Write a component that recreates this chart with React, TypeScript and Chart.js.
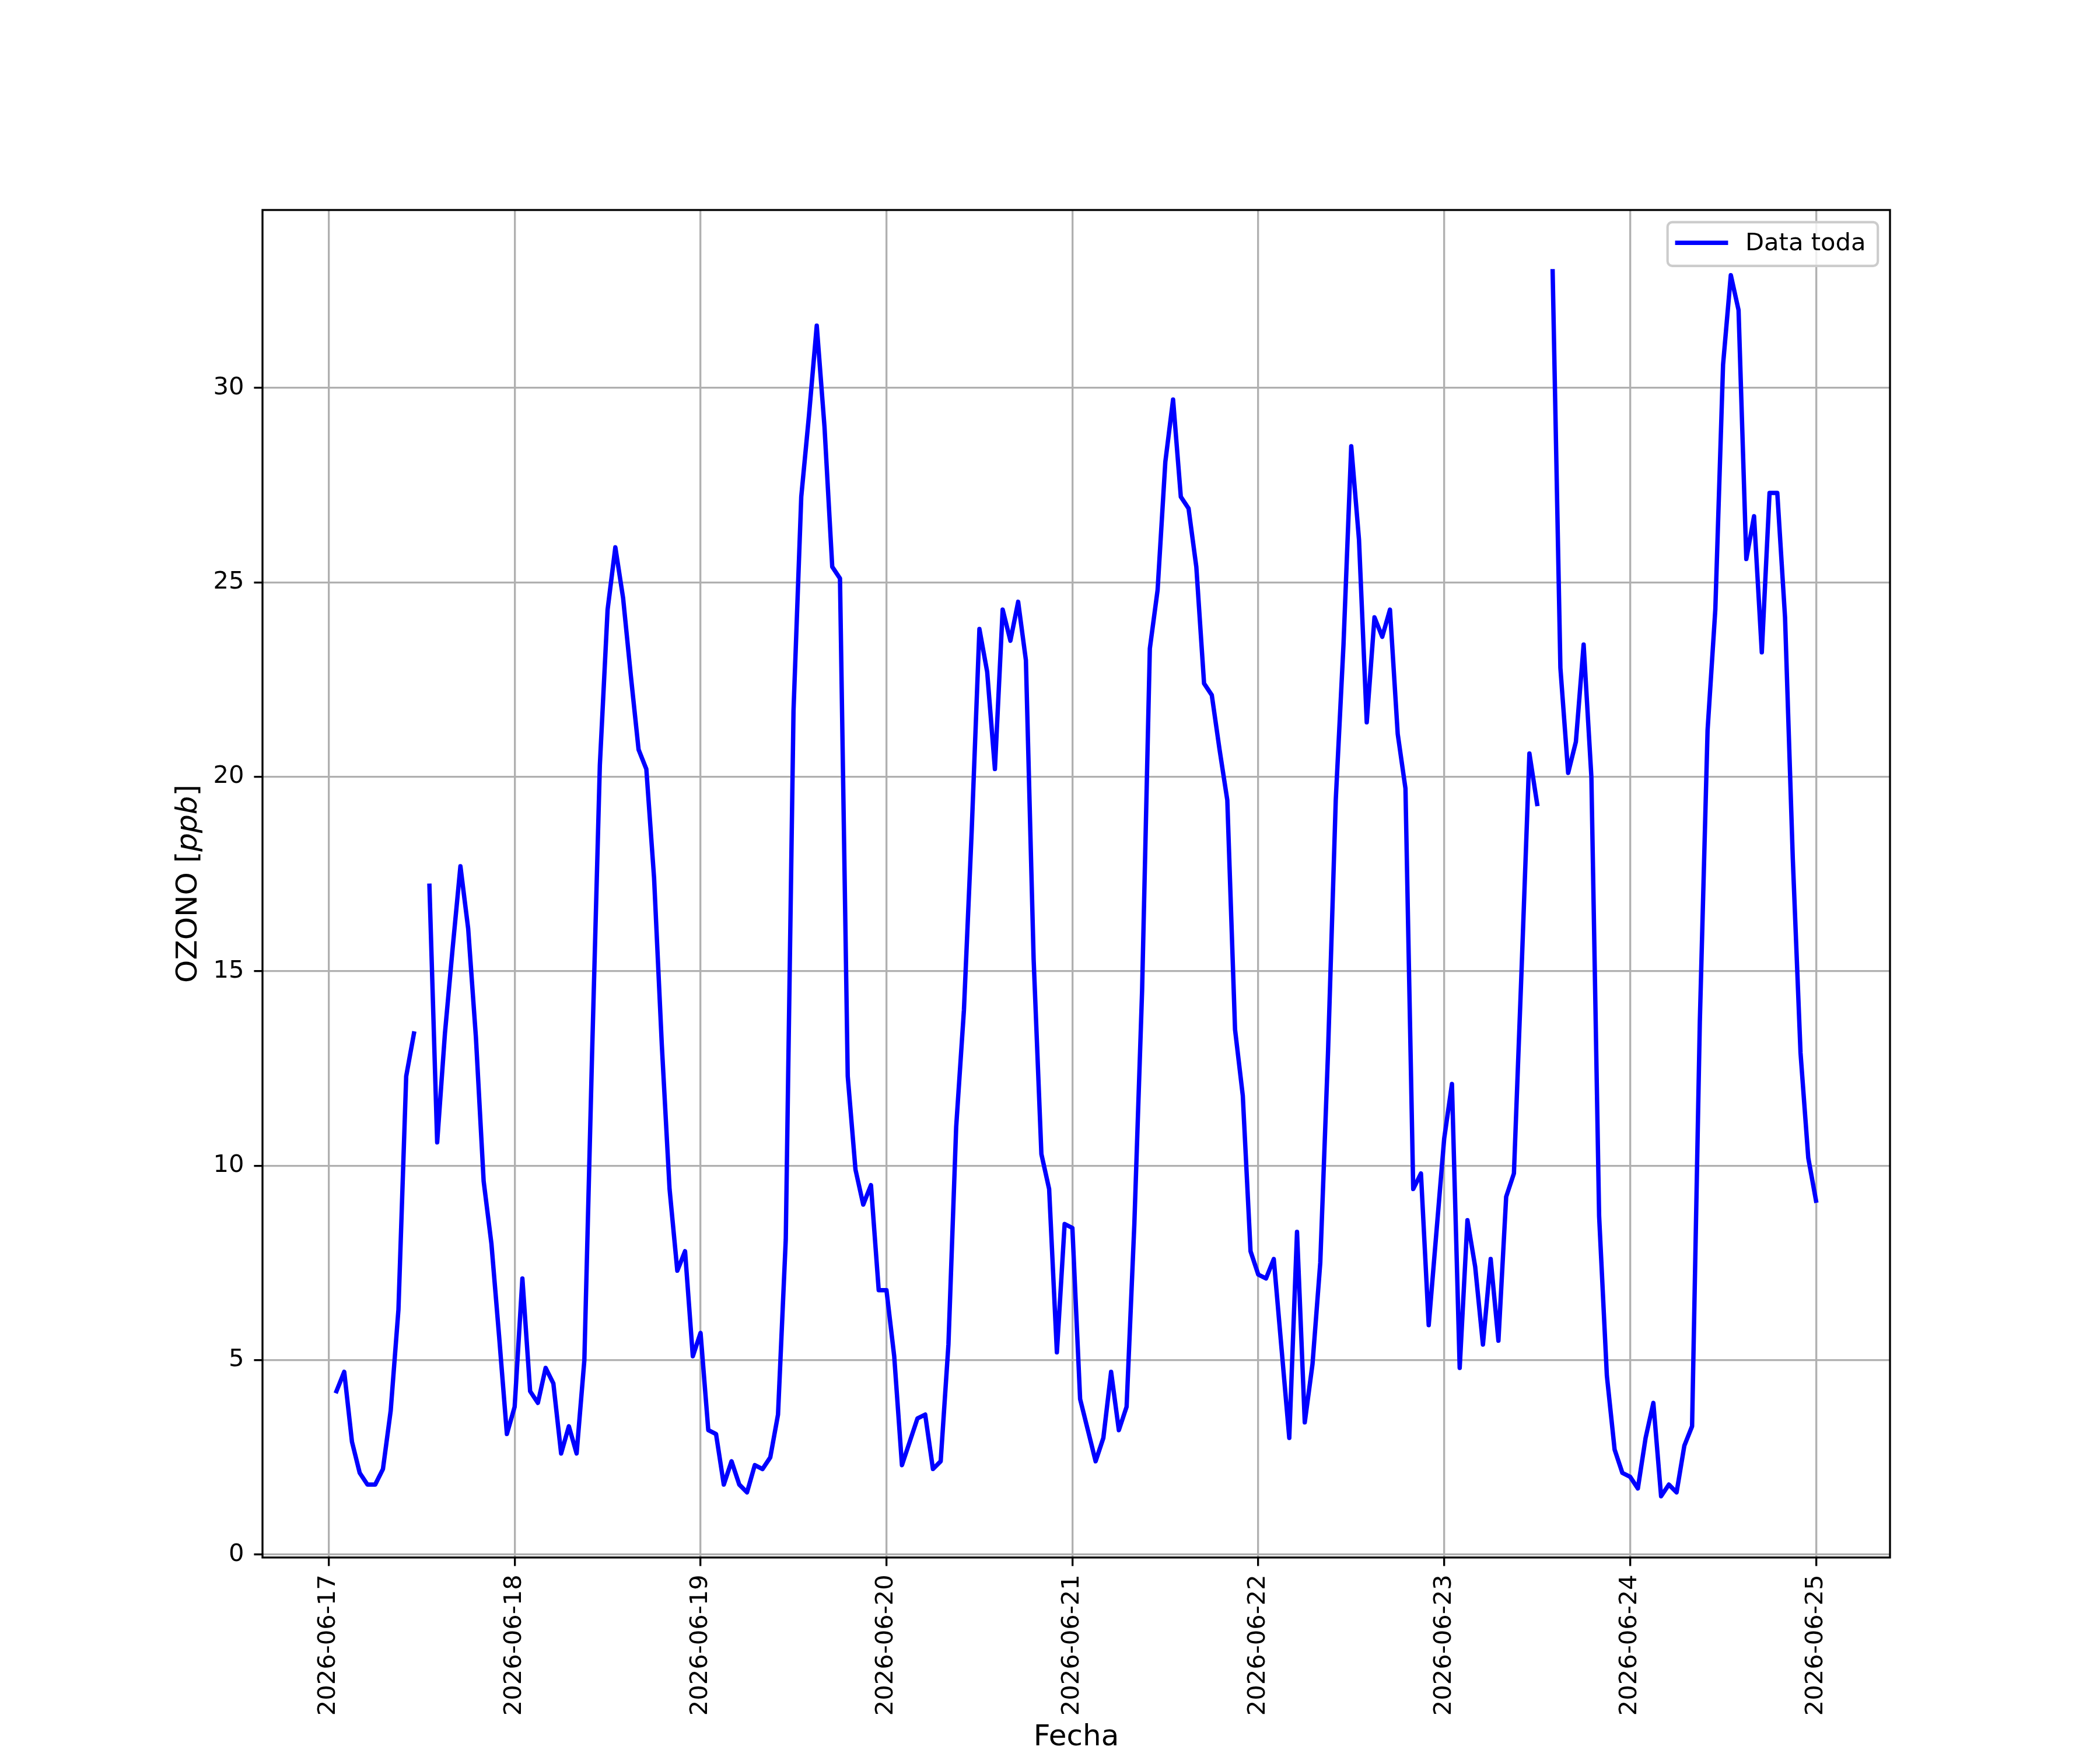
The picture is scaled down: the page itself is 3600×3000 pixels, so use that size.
import React, { useEffect, useRef } from 'react';
import { Chart, registerables } from 'chart.js';

Chart.register(...registerables);

// one tick per day (midnight)
const days = [
  '2026-06-17', '2026-06-18', '2026-06-19', '2026-06-20', '2026-06-21',
  '2026-06-22', '2026-06-23', '2026-06-24', '2026-06-25'
];

// hourly ozone, hour 0..23 of each day, null = missing
const o3Jun17 = [null, 4.2, 4.7, 2.9, 2.1, 1.8, 1.8, 2.2, 3.7, 6.3, 12.3, 13.4, null, 17.2, 10.6, 13.4, 15.6, 17.7, 16.1, 13.3, 9.6, 8.0, 5.6, 3.1];
const o3Jun18 = [3.8, 7.1, 4.2, 3.9, 4.8, 4.4, 2.6, 3.3, 2.6, 5.0, 12.9, 20.3, 24.3, 25.9, 24.6, 22.6, 20.7, 20.2, 17.4, 13.1, 9.4, 7.3, 7.8, 5.1];
const o3Jun19 = [5.7, 3.2, 3.1, 1.8, 2.4, 1.8, 1.6, 2.3, 2.2, 2.5, 3.6, 8.1, 21.7, 27.2, 29.3, 31.6, 29.0, 25.4, 25.1, 12.3, 9.9, 9.0, 9.5, 6.8];
const o3Jun20 = [6.8, 5.1, 2.3, 2.9, 3.5, 3.6, 2.2, 2.4, 5.4, 11.0, 14.0, 18.6, 23.8, 22.7, 20.2, 24.3, 23.5, 24.5, 23.0, 15.3, 10.3, 9.4, 5.2, 8.5];
const o3Jun21 = [8.4, 4.0, 3.2, 2.4, 3.0, 4.7, 3.2, 3.8, 8.5, 14.5, 23.3, 24.8, 28.1, 29.7, 27.2, 26.9, 25.4, 22.4, 22.1, 20.7, 19.4, 13.5, 11.8, 7.8];
const o3Jun22 = [7.2, 7.1, 7.6, 5.3, 3.0, 8.3, 3.4, 4.9, 7.5, 12.9, 19.4, 23.4, 28.5, 26.1, 21.4, 24.1, 23.6, 24.3, 21.1, 19.7, 9.4, 9.8, 5.9, 8.3];
const o3Jun23 = [10.7, 12.1, 4.8, 8.6, 7.4, 5.4, 7.6, 5.5, 9.2, 9.8, 15.1, 20.6, 19.3, null, 33.0, 22.8, 20.1, 20.9, 23.4, 20.0, 8.7, 4.6, 2.7, 2.1];
const o3Jun24 = [2.0, 1.7, 3.0, 3.9, 1.5, 1.8, 1.6, 2.8, 3.3, 13.7, 21.2, 24.3, 30.6, 32.9, 32.0, 25.6, 26.7, 23.2, 27.3, 27.3, 24.1, 17.9, 12.9, 10.2];
const o3Jun25 = [9.1];

const yTicks = [0, 5, 10, 15, 20, 25, 30];
const seriesLabel = 'Data toda';
const xTitle = 'Fecha';
const yTitleParts = ['OZONO [', 'ppb', ']']; // middle part is italic

const hourlyByDay = [o3Jun17, o3Jun18, o3Jun19, o3Jun20, o3Jun21, o3Jun22, o3Jun23, o3Jun24, o3Jun25];

// matplotlib-ish sizes at 300 dpi
const PT = 300 / 72;
const FS = 10 * PT; // ticks, legend
const FS_TITLE = 12 * PT; // axis labels
const FAMILY = '"DejaVu Sans", sans-serif';

const points = hourlyByDay.flatMap((vals, d) =>
  vals.map((v, h) => ({ x: d * 24 + h, y: v }))
);

// autoscale with 5% margins like matplotlib
const valid = points.filter((p) => p.y !== null) as { x: number; y: number }[];
const xLo = Math.min(...valid.map((p) => p.x));
const xHi = Math.max(...valid.map((p) => p.x));
const yLo = Math.min(...valid.map((p) => p.y));
const yHi = Math.max(...valid.map((p) => p.y));
const xPad = (xHi - xLo) * 0.05;
const yPad = (yHi - yLo) * 0.05;

const extrasPlugin = {
  id: 'mplExtras',
  afterDraw(chart: any) {
    const { ctx, chartArea: a } = chart;
    ctx.save();

    // axes frame
    ctx.strokeStyle = '#000';
    ctx.lineWidth = 0.8 * PT;
    ctx.strokeRect(a.left, a.top, a.right - a.left, a.bottom - a.top);

    // legend, upper right
    const ds = chart.data.datasets[0];
    ctx.font = `${FS}px ${FAMILY}`;
    const textW = ctx.measureText(ds.label).width;
    const boxW = textW + FS * (0.4 * 2 + 2.0 + 0.8) + 4;
    const boxH = FS * 1.8;
    const boxR = a.right - 0.5 * FS;
    const boxT = a.top + 0.5 * FS;
    const boxL = boxR - boxW;
    ctx.beginPath();
    ctx.roundRect(boxL, boxT, boxW, boxH, 8);
    ctx.fillStyle = 'rgba(255,255,255,0.8)';
    ctx.fill();
    ctx.strokeStyle = '#cccccc';
    ctx.lineWidth = 1.0 * PT;
    ctx.stroke();

    const midY = boxT + boxH / 2 - 2;
    const hx = boxL + 0.4 * FS;
    ctx.beginPath();
    ctx.moveTo(hx, midY);
    ctx.lineTo(hx + 2.0 * FS, midY);
    ctx.strokeStyle = ds.borderColor;
    ctx.lineWidth = ds.borderWidth;
    ctx.lineCap = 'square';
    ctx.stroke();

    ctx.fillStyle = '#000';
    ctx.textAlign = 'left';
    ctx.textBaseline = 'middle';
    ctx.fillText(ds.label, hx + 2.8 * FS, midY + 2);

    // y axis title with italic unit
    const fonts = [`${FS_TITLE}px ${FAMILY}`, `italic ${FS_TITLE}px ${FAMILY}`, `${FS_TITLE}px ${FAMILY}`];
    const widths = yTitleParts.map((t, i) => {
      ctx.font = fonts[i];
      return ctx.measureText(t).width;
    });
    const total = widths.reduce((s, w) => s + w, 0);
    ctx.translate(324, (a.top + a.bottom) / 2);
    ctx.rotate(-Math.PI / 2);
    let cx = -total / 2;
    yTitleParts.forEach((t, i) => {
      ctx.font = fonts[i];
      ctx.fillText(t, cx, 0);
      cx += widths[i];
    });

    ctx.restore();
  }
};

const OzoneChart: React.FC = () => {
  const canvasRef = useRef<HTMLCanvasElement>(null);

  useEffect(() => {
    document.body.style.margin = '0';
    const ctx = canvasRef.current?.getContext('2d');
    if (!ctx) return;

    const gridCommon = {
      color: '#b0b0b0',
      lineWidth: 0.8 * PT,
      tickColor: '#000',
      tickWidth: 0.8 * PT,
      tickLength: 3.5 * PT
    };

    const chart = new Chart(ctx, {
      type: 'line',
      data: {
        datasets: [
          {
            label: seriesLabel,
            data: points,
            borderColor: '#0000ff',
            borderWidth: 1.8 * PT,
            pointRadius: 0,
            tension: 0,
            fill: false,
            spanGaps: false,
            borderCapStyle: 'square',
            borderJoinStyle: 'round'
          }
        ]
      },
      options: {
        responsive: false,
        devicePixelRatio: 1,
        animation: false,
        events: [],
        layout: { padding: { top: 360, right: 360, left: 0, bottom: 0 } },
        plugins: {
          legend: { display: false },
          tooltip: { enabled: false }
        },
        scales: {
          x: {
            type: 'linear',
            min: xLo - xPad,
            max: xHi + xPad,
            afterFit: (s: any) => {
              s.height = 330;
            },
            afterBuildTicks: (s: any) => {
              s.ticks = days.map((_, i) => ({ value: i * 24 }));
            },
            grid: gridCommon,
            border: { display: false },
            ticks: {
              autoSkip: false,
              maxRotation: 90,
              minRotation: 90,
              padding: 3.5 * PT,
              color: '#000',
              font: { family: FAMILY, size: FS },
              callback: (_v: any, i: number) => days[i]
            },
            title: {
              display: true,
              text: xTitle,
              color: '#000',
              font: { family: FAMILY, size: FS_TITLE, lineHeight: 1 },
              padding: { top: 0, bottom: -4 }
            }
          },
          y: {
            type: 'linear',
            min: yLo - yPad,
            max: yHi + yPad,
            afterFit: (s: any) => {
              s.width = 450;
            },
            afterBuildTicks: (s: any) => {
              s.ticks = yTicks.map((v) => ({ value: v }));
            },
            grid: gridCommon,
            border: { display: false },
            ticks: {
              padding: 17,
              color: '#000',
              font: { family: FAMILY, size: FS },
              callback: (v: any) => String(v)
            },
            title: { display: false }
          }
        }
      },
      plugins: [extrasPlugin]
    });

    return () => chart.destroy();
  }, []);

  return <canvas ref={canvasRef} width={3600} height={3000} style={{ display: 'block' }} />;
};

export default function App() {
  return <OzoneChart />;
}
